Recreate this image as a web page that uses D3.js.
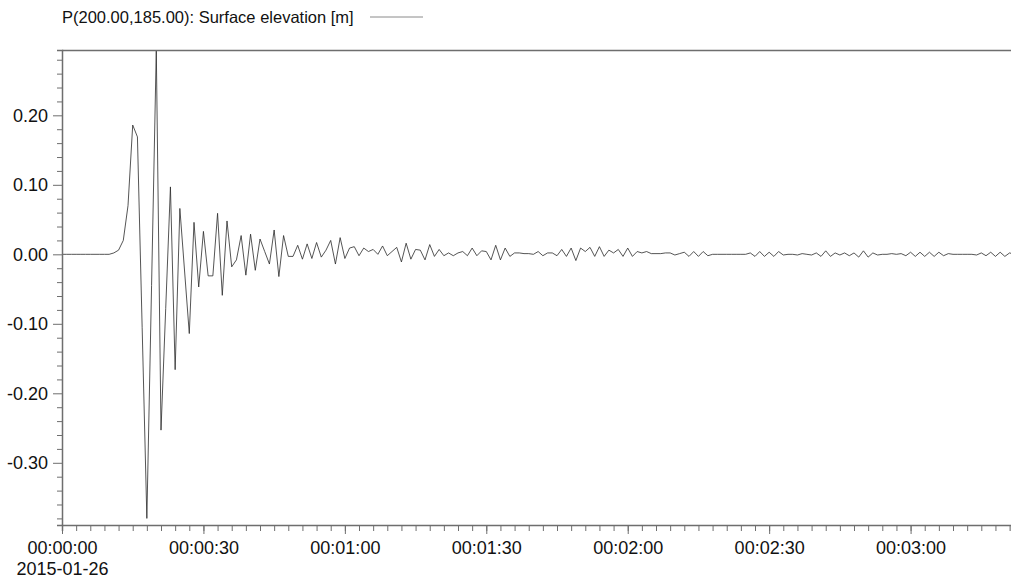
<!DOCTYPE html>
<html>
<head>
<meta charset="utf-8">
<script src="https://cdn.jsdelivr.net/npm/d3@7"></script>
<style>
body { margin: 0; background: #fff; }
svg text { font-family: "Liberation Sans", Arial, sans-serif; fill: #111; }
.axis path, .axis line { stroke: #6e6e6e; }
</style>
</head>
<body>
<div id="chartDiv"></div>
<script>
// series: surface elevation [m], one value per second from 00:00:00
var elevation = [
	0, 0, 0, 0, 0, 0, 0, 0, 0, 0,
	0, 0.002, 0.006, 0.02, 0.07, 0.186, 0.169, -0.105, -0.38, -0.045,
	0.294, -0.253, -0.078, 0.097, -0.166, 0.066, -0.024, -0.114, 0.046, -0.047,
	0.033, -0.031, -0.031, 0.059, -0.059, 0.048, -0.018, -0.008, 0.027, -0.030,
	0.029, -0.023, 0.022, 0.004, -0.014, 0.035, -0.032, 0.027, -0.003, -0.003,
	0.013, -0.007, 0.015, -0.006, 0.017, -0.004, 0.006, 0.020, -0.014, 0.024,
	-0.006, 0.009, 0.011, -0.002, 0.009, 0.004, 0.007, 0.0, 0.012, -0.002,
	0.004, 0.010, -0.011, 0.016, -0.007, 0.007, 0.006, -0.008, 0.014, -0.003,
	0.007, -0.002, 0.002, -0.002, 0.002, 0.004, -0.002, 0.009, -0.002, 0.005,
	0.004, -0.008, 0.013, -0.008, 0.009, -0.003, 0.002, 0.002, 0.001, 0.001,
	0.0, 0.004, -0.002, 0.002, 0.002, -0.002, 0.007, -0.003, 0.009, -0.009,
	0.009, 0.004, 0.010, -0.003, 0.011, -0.003, 0.006, 0.002, 0.007, -0.003,
	0.009, -0.003, 0.004, 0.002, 0.004, 0.001, 0.001, 0.001, 0.002, 0.002,
	-0.001, 0.001, 0.003, -0.003, 0.004, -0.003, 0.004, -0.002, 0.0, 0.0,
	0.0, 0.0, 0.0, 0.0, 0.0, 0.0, 0.002, -0.003, 0.004, -0.003,
	0.003, -0.003, 0.004, -0.001, 0.0, 0.0, -0.001, 0.001, 0.0, -0.001,
	0.002, -0.003, 0.005, -0.003, 0.002, -0.001, 0.002, -0.002, 0.002, -0.004,
	0.005, -0.004, 0.002, -0.001, 0.0, 0.0, 0.001, 0.0, 0.001, -0.002,
	0.003, -0.003, 0.003, -0.003, 0.003, -0.003, 0.003, -0.002, 0.001, 0.0,
	0.0, 0.0, 0.0, 0.0, -0.001, 0.002, -0.002, 0.003, -0.003, 0.003,
	-0.003, 0.002, 0.0
];

// labels
var seriesName = "P(200.00,185.00): Surface elevation [m]";
var startDate = new Date(2015, 0, 26, 0, 0, 0);
var yMajor = [-0.30, -0.20, -0.10, 0.00, 0.10, 0.20];

var width = 1011, height = 586;
var margin = {top: 50, right: 0, bottom: 61, left: 62};

// plain hyphen for negatives, like the original
var locale = d3.formatLocale({decimal: ".", thousands: ",", grouping: [3], currency: ["", ""], minus: "-"});

var svg = d3.select("#chartDiv")
	.append("svg")
	.attr("width", width)
	.attr("height", height);

// scales
var x = d3.scaleTime()
	.domain([startDate, d3.timeMillisecond.offset(startDate, 201300)])
	.range([margin.left, width - margin.right]);

var y = d3.scaleLinear()
	.domain([-0.3895, 0.294])
	.range([height - margin.bottom, margin.top]);

var data = elevation.map(function(v, i) {
	return {t: d3.timeSecond.offset(startDate, i), v: v};
});

// clip to plot area
svg.append("clipPath")
	.attr("id", "plotClip")
	.append("rect")
	.attr("x", margin.left)
	.attr("y", margin.top)
	.attr("width", width - margin.left - margin.right)
	.attr("height", height - margin.top - margin.bottom);

var line = d3.line()
	.x(function(d) { return x(d.t); })
	.y(function(d) { return y(d.v); });

svg.append("path")
	.datum(data)
	.attr("clip-path", "url(#plotClip)")
	.attr("fill", "none")
	.attr("stroke", "#2a2a2a")
	.attr("stroke-width", 0.8)
	.attr("d", line);

// top frame line
svg.append("line")
	.attr("x1", margin.left).attr("x2", width)
	.attr("y1", margin.top + 0.5).attr("y2", margin.top + 0.5)
	.attr("stroke", "#6e6e6e")
	.attr("stroke-width", 1.5);

// y axis: minor then major
var yMinor = y.ticks(35).filter(function(d) {
	return yMajor.every(function(m) { return Math.abs(m - d) > 1e-6; });
});

svg.append("g")
	.attr("class", "axis")
	.attr("transform", "translate(" + margin.left + ",0)")
	.call(d3.axisLeft(y).tickValues(yMinor).tickSize(5).tickFormat(""))
	.call(function(g) { g.select(".domain").attr("stroke-width", 1.5); });

svg.append("g")
	.attr("class", "axis")
	.attr("transform", "translate(" + margin.left + ",0)")
	.call(d3.axisLeft(y).tickValues(yMajor).tickSize(9).tickPadding(5).tickFormat(locale.format(".2f")))
	.call(function(g) {
		g.select(".domain").remove();
		g.selectAll("text").style("font-size", "18px").attr("fill", "#111");
	});

// x axis: minor every 3 s, major every 30 s
var xBase = height - margin.bottom;

svg.append("g")
	.attr("class", "axis")
	.attr("transform", "translate(0," + xBase + ")")
	.call(d3.axisBottom(x).ticks(d3.timeSecond.every(3)).tickSize(6).tickFormat(""))
	.call(function(g) { g.select(".domain").attr("stroke-width", 1.5); });

var timeFmt = d3.timeFormat("%H:%M:%S");
var dateFmt = d3.timeFormat("%Y-%m-%d");

var xMajor = svg.append("g")
	.attr("class", "axis")
	.attr("transform", "translate(0," + xBase + ")")
	.call(d3.axisBottom(x).ticks(d3.timeSecond.every(30)).tickSize(9).tickPadding(7).tickFormat(timeFmt));

xMajor.select(".domain").remove();
xMajor.selectAll("text").style("font-size", "18px").attr("fill", "#111");

// date under the first label
xMajor.selectAll(".tick")
	.filter(function(d) { return +d === +startDate; })
	.append("text")
	.attr("y", 50)
	.attr("text-anchor", "middle")
	.style("font-size", "18px")
	.attr("fill", "#111")
	.text(dateFmt(startDate));

// legend
svg.append("text")
	.attr("x", 62)
	.attr("y", 23)
	.style("font-size", "16.5px")
	.text(seriesName);

svg.append("line")
	.attr("x1", 370).attr("x2", 423)
	.attr("y1", 17).attr("y2", 17)
	.attr("stroke", "#8a8a8a")
	.attr("stroke-width", 1);
</script>
</body>
</html>
